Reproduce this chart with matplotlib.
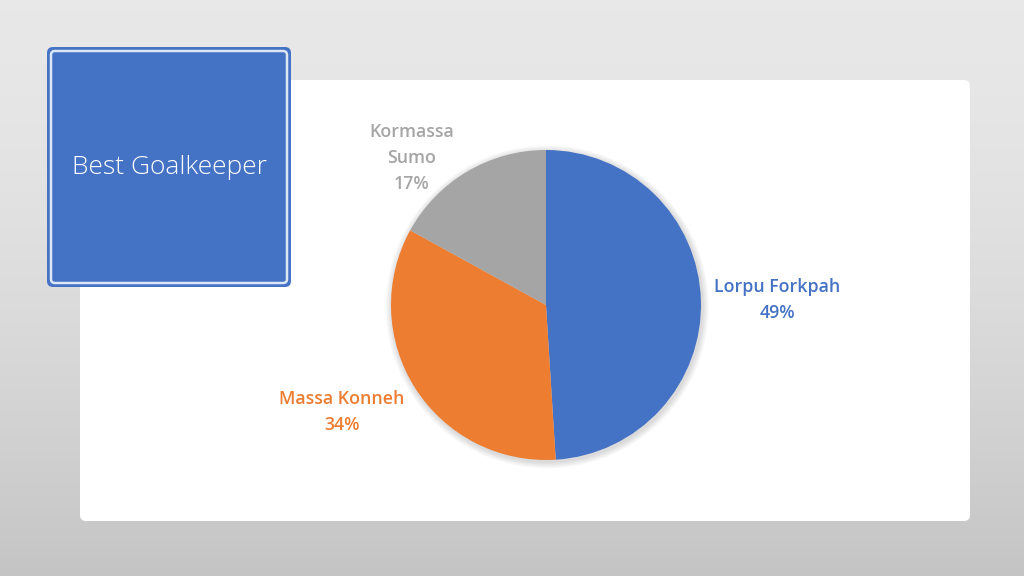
import numpy as np
import matplotlib
matplotlib.use("Agg")
import matplotlib.pyplot as plt
from matplotlib.patches import FancyBboxPatch, Circle

# data
players = ["Lorpu Forkpah", "Massa Konneh", "Kormassa Sumo"]
label_text = ["Lorpu Forkpah", "Massa Konneh", "Kormassa\nSumo"]
shares = [49, 34, 17]
colors = ["#4472C4", "#ED7D31", "#A5A5A5"]
title = "Best Goalkeeper"

W, H = 1024, 576
fig = plt.figure(figsize=(W / 100, H / 100), dpi=100)

# background in pixel coordinates
bg = fig.add_axes([0, 0, 1, 1])
bg.set_xlim(0, W)
bg.set_ylim(H, 0)
bg.axis("off")
grad = np.linspace(0, 1, 256).reshape(-1, 1)
top = np.array([0.91, 0.91, 0.91])
bot = np.array([0.77, 0.77, 0.77])
img = top + (bot - top) * grad[..., None] ** 1.6
bg.imshow(img.reshape(256, 1, 3), extent=[0, W, H, 0], aspect="auto", zorder=0)

# white panel
bg.add_patch(FancyBboxPatch((80, 80), 890, 441, boxstyle="round,pad=0,rounding_size=6",
                            facecolor="white", edgecolor="none", zorder=1))

# title box
bg.add_patch(FancyBboxPatch((47, 47), 244, 240, boxstyle="round,pad=0,rounding_size=6",
                            facecolor="#4472C4", edgecolor="none", zorder=2))
bg.add_patch(FancyBboxPatch((51, 51), 236, 232, boxstyle="round,pad=0,rounding_size=4",
                            facecolor="#4472C4", edgecolor="#DCE6F5", linewidth=1.8, zorder=3))
bg.text(169, 168, title, ha="center", va="center", color="white", fontsize=19,
        family="Open Sans", weight="light", zorder=4)

# pie
cx, cy, r = 546, 305, 155
ax = fig.add_axes([(cx - r) / W, (H - cy - r) / H, 2 * r / W, 2 * r / H])
ax.set_xlim(-1, 1)
ax.set_ylim(-1, 1)
ax.axis("off")
for i in range(6):
    ax.add_patch(Circle((0.008, -0.012), 1.0 + 0.007 * (6 - i), facecolor="black",
                        alpha=0.022, edgecolor="none", zorder=0, clip_on=False))
wedges, _ = ax.pie(shares, colors=colors, startangle=90, counterclock=False, radius=1,
                   wedgeprops=dict(edgecolor="none", linewidth=0))
for w in wedges:
    w.set_zorder(2)
    w.set_clip_on(False)
ax.set_xlim(-1, 1)
ax.set_ylim(-1, 1)

# data labels (pixel positions of label centres)
label_pos = [(777, 300), (342, 412), (412, 158)]
for txt, s, c, (lx, ly) in zip(label_text, shares, colors, label_pos):
    bg.text(lx, ly, f"{txt}\n{s}%", ha="center", va="center", color=c, fontsize=12.8,
            family="Open Sans", weight="semibold", linespacing=1.55, zorder=5)

fig.savefig("out.png", dpi=100)
